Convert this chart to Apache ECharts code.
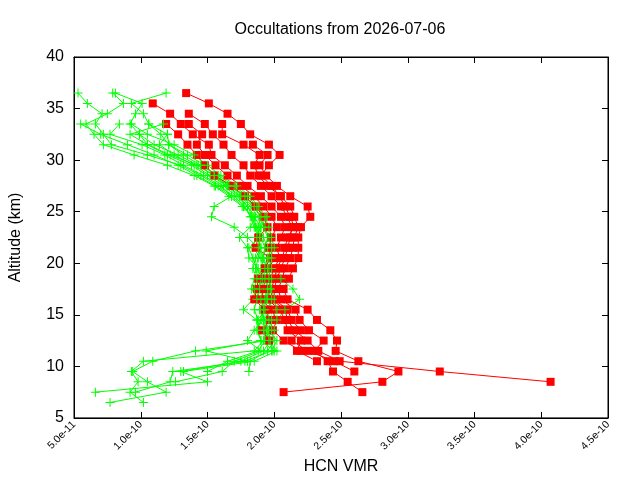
<!DOCTYPE html>
<html>
<head>
<meta charset="utf-8">
<script src="https://cdn.jsdelivr.net/npm/echarts@6/dist/echarts.min.js"></script>
<style>html,body{margin:0;padding:0;background:#fff;}#c{width:640px;height:480px;}</style>
</head>
<body>
<div id="c"></div>
<script>
// Altitude levels (km) shared by all profiles
const altitudes = [36.5,35.5,34.5,33.5,32.5,31.5,30.5,29.5,28.5,27.5,26.5,25.5,24.5,23.5,22.5,21.5,20.5,19.5,18.5,17.5,16.5,15.5,14.5,13.5,12.5,11.5,10.5,9.5,8.5,7.5,6.5];
// HCN VMR values in units of 1e-10 (null = no data at that altitude)
const VMR_UNIT = 1e-10;
const red1 = [1.34,1.51,1.65,1.75,1.82,1.96,2.04,1.96,1.90,1.98,2.04,2.08,2.12,2.15,2.10,2.08,2.06,2.02,2.00,1.98,1.98,2.08,2.10,2.15,2.25,2.33,2.49,3.24,4.07,null,null];
const red2 = [null,1.09,1.22,1.30,1.39,1.51,1.53,1.63,1.72,1.80,1.90,1.98,2.05,2.08,2.05,2.02,2.04,2.00,1.97,1.96,1.95,2.04,2.08,2.10,2.20,2.17,2.32,null,null,null,null];
const red3 = [null,null,1.36,1.48,1.54,1.62,1.68,1.77,1.82,1.90,1.98,2.05,2.10,2.13,2.12,2.10,2.08,2.05,2.02,2.00,2.00,2.10,2.13,2.20,2.13,2.25,2.45,2.60,null,null,null];
const red4 = [null,null,null,1.19,1.28,1.35,1.42,1.48,1.55,1.68,1.78,1.86,1.92,1.95,1.88,1.86,1.97,1.93,1.88,1.87,1.85,1.93,1.97,1.91,1.96,null,null,null,null,null,null];
const red5 = [null,null,null,1.36,1.46,1.42,1.48,1.56,1.65,1.75,1.85,1.92,1.98,2.02,1.98,1.96,2.00,1.96,1.93,1.92,1.90,1.98,2.02,1.99,2.07,2.20,null,null,null,null,null];
const red6 = [null,null,null,1.61,1.61,1.77,1.89,1.85,1.88,1.95,2.05,2.12,2.15,2.18,2.15,2.14,2.12,2.08,2.06,2.03,2.05,2.16,2.19,2.26,2.37,2.30,2.40,2.44,2.55,2.66,null];
const red7 = [null,null,null,null,null,1.84,1.95,1.89,1.94,2.02,2.12,2.25,2.27,2.20,2.18,2.18,2.18,2.14,2.11,2.07,2.10,2.25,2.32,2.42,2.47,2.46,2.63,2.93,2.81,2.07,null];

const green1 = [0.53,0.60,0.71,0.66,0.72,0.78,1.05,1.30,1.45,1.58,1.70,1.78,1.82,1.85,1.88,1.90,1.88,1.86,1.88,1.90,1.92,1.90,1.93,1.95,1.92,1.85,1.02,0.93,0.98,0.92,1.02];
const green2 = [0.79,0.87,0.75,0.59,0.65,0.72,0.95,1.20,1.40,1.55,1.66,1.76,1.85,1.90,1.86,1.84,1.90,1.92,1.85,1.83,1.88,1.95,1.87,1.90,1.95,1.41,1.09,0.94,1.05,1.19,0.77];
const green3 = [0.81,1.01,0.96,0.92,0.99,1.05,1.20,1.38,1.50,1.62,1.72,1.80,1.86,1.82,1.74,1.80,1.81,1.88,1.92,1.86,1.84,1.77,1.87,1.88,1.90,1.49,1.80,1.24,1.22,0.96,null];
const green4 = [1.19,0.93,1.02,1.06,1.15,1.21,1.35,1.48,1.56,1.68,1.76,1.84,1.90,1.92,1.95,1.93,1.92,1.90,1.93,1.95,1.98,1.96,1.94,1.95,1.97,1.92,1.75,1.30,1.50,0.66,null];
const green5 = [null,null,null,0.84,0.77,1.01,1.18,1.32,1.47,1.60,1.68,1.55,1.53,1.70,1.80,1.88,1.92,1.95,1.90,1.92,1.95,1.98,1.92,1.85,1.80,1.90,1.70,1.61,1.26,null,null];
const green6 = [null,null,null,1.06,1.20,1.14,1.25,1.40,1.52,1.65,1.75,1.82,1.88,1.93,1.96,1.98,1.95,1.93,1.96,1.98,2.00,2.02,1.98,1.98,2.00,1.95,1.82,1.81,null,null,null];
const green7 = [null,null,null,1.17,0.92,1.05,1.22,1.42,1.55,1.66,1.78,1.85,1.90,1.88,1.92,1.95,1.98,1.96,1.93,1.97,1.94,1.92,1.96,2.00,1.93,1.88,1.65,1.50,null,null,null];
const green8 = [null,null,null,null,1.20,1.21,1.32,1.45,1.58,1.70,1.80,1.87,1.93,1.96,1.98,2.00,1.96,1.98,2.05,2.14,2.19,2.08,2.02,1.92,1.96,2.02,1.85,1.32,null,null,null];
const green9 = [null,null,null,0.55,0.70,0.90,1.10,1.28,1.42,1.56,1.68,1.77,1.83,1.86,1.89,1.81,1.84,1.87,1.91,1.89,1.87,1.85,1.88,1.96,2.02,1.98,1.78,null,null,null,null];
const green10 = [null,null,null,0.93,1.05,1.25,1.40,1.50,1.60,1.72,1.82,1.88,1.94,1.90,1.87,1.90,1.86,1.84,1.87,1.85,1.90,1.93,1.90,1.87,1.90,2.00,null,null,null,null,null];
const green11 = [null,null,null,null,0.99,1.10,1.28,1.43,1.55,1.64,1.74,1.80,1.84,1.87,1.90,1.93,1.91,1.95,1.98,1.95,1.93,1.89,1.92,1.93,1.97,1.99,null,null,null,null,null];

const redProfiles = [red1,red2,red3,red4,red5,red6,red7];
const greenProfiles = [green1,green2,green3,green4,green5,green6,green7,green8,green9,green10,green11];

function toPairs(vals){
  const out=[];
  vals.forEach((v,i)=>{ if(v!==null) out.push([v, altitudes[i]]); });
  return out;
}
const PLUS = 'path://M4,0h1v4h4v1h-4v4h-1v-4h-4v-1h4z';
const series=[];
const n=Math.max(redProfiles.length, greenProfiles.length);
for(let i=0;i<n;i++){
  if(i<greenProfiles.length) series.push({
    type:'line', data:toPairs(greenProfiles[i]), symbol:PLUS, symbolSize:9,
    lineStyle:{color:'#00ff00',width:1}, itemStyle:{color:'#00ff00'}, showAllSymbol:true
  });
  if(i<redProfiles.length) series.push({
    type:'line', data:toPairs(redProfiles[i]), symbol:'rect', symbolSize:8,
    lineStyle:{color:'#ff0000',width:1}, itemStyle:{color:'#ff0000'}, showAllSymbol:true
  });
}
const chart = echarts.init(document.getElementById('c'), null, {renderer:'canvas'});
const fontFam = '"Liberation Sans", Arial, sans-serif';
chart.setOption({
  animation:false,
  backgroundColor:'#fff',
  title:{text:'Occultations from 2026-07-06', left:335, top:17, textAlign:'center',
    textStyle:{fontFamily:fontFam, fontSize:16, fontWeight:'normal', color:'#000'}},
  grid:{left:74, right:32, top:57, bottom:61, show:true, borderColor:'#000', borderWidth:1, backgroundColor:'transparent'},
  xAxis:[{
    type:'value', min:0.5, max:4.5, interval:0.5,
    name:'HCN VMR', nameLocation:'middle', nameGap:38,
    nameTextStyle:{fontFamily:fontFam, fontSize:16, color:'#000', verticalAlign:'top'},
    axisLine:{show:true, lineStyle:{color:'#000'}},
    axisTick:{show:true, inside:true, length:6, lineStyle:{color:'#000'}},
    splitLine:{show:false},
    axisLabel:{rotate:45, margin:5, fontFamily:fontFam, fontSize:10.5, color:'#000',
      formatter:v=>(v*VMR_UNIT).toExponential(1)}
  },{
    type:'value', position:'top', min:0.5, max:4.5, interval:0.5,
    axisLine:{show:true, lineStyle:{color:'#000'}},
    axisTick:{show:true, inside:true, length:6, lineStyle:{color:'#000'}},
    axisLabel:{show:false}, splitLine:{show:false}
  }],
  yAxis:[{
    type:'value', min:5, max:40, interval:5,
    name:'Altitude (km)', nameLocation:'middle', nameGap:50, nameRotate:90,
    nameTextStyle:{fontFamily:fontFam, fontSize:16, color:'#000'},
    axisLine:{show:true, lineStyle:{color:'#000'}},
    axisTick:{show:true, inside:true, length:6, lineStyle:{color:'#000'}},
    splitLine:{show:false},
    axisLabel:{margin:10, fontFamily:fontFam, fontSize:16, color:'#000'}
  },{
    type:'value', position:'right', min:5, max:40, interval:5,
    axisLine:{show:true, lineStyle:{color:'#000'}},
    axisTick:{show:true, inside:true, length:6, lineStyle:{color:'#000'}},
    axisLabel:{show:false}, splitLine:{show:false}
  }],
  series: series
});
</script>
</body>
</html>
